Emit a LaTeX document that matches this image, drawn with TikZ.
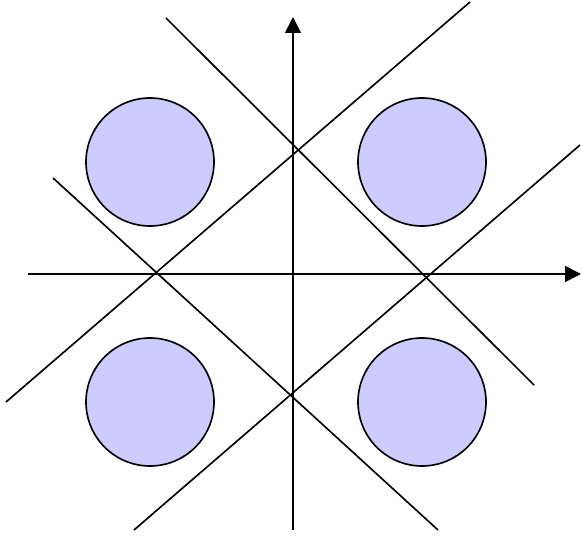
\documentclass[tikz,border=0pt]{standalone}
\usetikzlibrary{arrows.meta}

\definecolor{dotfill}{RGB}{204,204,255}

\begin{document}
\begin{tikzpicture}[
  x=0.03cm, y=-0.03cm, line width=1.4pt,
  >={Triangle[length=0.48cm, width=0.48cm]},
  dot/.style={circle, draw, fill=dotfill, minimum size=3.84cm, inner sep=0pt}
]
  \useasboundingbox (0,0) rectangle (581,537);
  % axes
  \coordinate (xs) at (28,274);
  \coordinate (xe) at (581,274);
  \coordinate (ys) at (293,530);
  \coordinate (ye) at (293,17);
  % circles
  \node[dot] (c1) at (150,162) {};
  \node[dot] (c2) at (422,162) {};
  \node[dot] (c3) at (150,402) {};
  \node[dot] (c4) at (422,402) {};
  \draw[->] (xs) -- (xe);
  \draw[->] (ys) -- (ye);
  % separating lines
  \coordinate (a1) at (166,18);  \coordinate (a2) at (534,385);
  \coordinate (b1) at (53,178);  \coordinate (b2) at (438,530);
  \coordinate (d1) at (470,2);   \coordinate (d2) at (6,402);
  \coordinate (e1) at (580,145); \coordinate (e2) at (134,530);
  \draw (a1) -- (a2);
  \draw (b1) -- (b2);
  \draw (d1) -- (d2);
  \draw (e1) -- (e2);
\end{tikzpicture}
\end{document}
